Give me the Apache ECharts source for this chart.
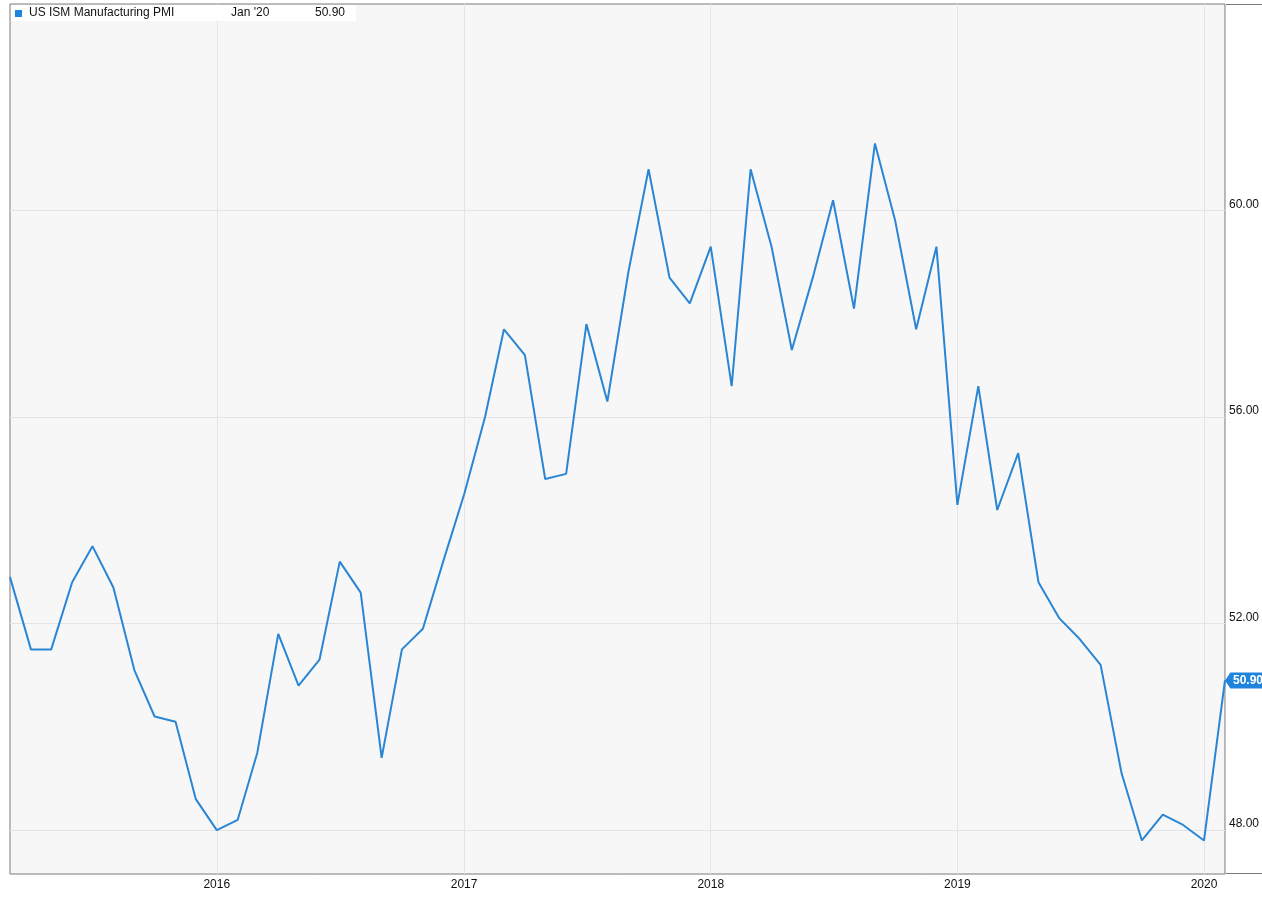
<!DOCTYPE html>
<html>
<head>
<meta charset="utf-8">
<script src="https://cdn.jsdelivr.net/npm/echarts@6/dist/echarts.min.js"></script>
<style>
  html, body { margin: 0; padding: 0; background: #ffffff; }
  #chart { width: 1262px; height: 902px; }
</style>
</head>
<body>
<div id="chart"></div>
<script>
// ---- Data (US ISM Manufacturing PMI, monthly) ----
const seriesName = 'US ISM Manufacturing PMI';
const monthNames = ['Jan', 'Feb', 'Mar', 'Apr', 'May', 'Jun', 'Jul', 'Aug', 'Sep', 'Oct', 'Nov', 'Dec'];
const startYear = 2015;
const startMonth = 1; // February (0-based)
const pmi2015 = [52.9, 51.5, 51.5, 52.8, 53.5, 52.7, 51.1, 50.2, 50.1, 48.6, 48.0]; // Feb..Dec
const pmi2016 = [48.2, 49.5, 51.8, 50.8, 51.3, 53.2, 52.6, 49.4, 51.5, 51.9, 53.2, 54.5];
const pmi2017 = [56.0, 57.7, 57.2, 54.8, 54.9, 57.8, 56.3, 58.8, 60.8, 58.7, 58.2, 59.3];
const pmi2018 = [56.6, 60.8, 59.3, 57.3, 58.7, 60.2, 58.1, 61.3, 59.8, 57.7, 59.3, 54.3];
const pmi2019 = [56.6, 54.2, 55.3, 52.8, 52.1, 51.7, 51.2, 49.1, 47.8, 48.3, 48.1, 47.8];
const pmi2020 = [50.9]; // Jan
const yearTicks = [2016, 2017, 2018, 2019, 2020];
const valueTicks = [48, 52, 56, 60];

// ---- Build series ----
const values = [].concat(pmi2015, pmi2016, pmi2017, pmi2018, pmi2019, pmi2020);
const seriesData = values.map(function (v, i) {
  const m = startMonth + i;
  const y = startYear + Math.floor(m / 12);
  const mm = m % 12;
  // each monthly reading is plotted at the start of the following month
  const t = new Date(y, mm + 1, 1).getTime();
  return [t, v];
});
const lastIdx = values.length - 1;
const lastM = startMonth + lastIdx;
const lastLabel = monthNames[lastM % 12] + " '" + String(startYear + Math.floor(lastM / 12)).slice(2);
const lastValue = values[lastIdx];
const xMin = new Date(startYear, startMonth + 1, 1).getTime();
const xMax = seriesData[lastIdx][0];
const yearTickTimes = yearTicks.map(function (y) { return new Date(y, 0, 1).getTime(); });

const lineColor = '#2a86d4';
const fontFamily = "'Liberation Sans', Arial, Helvetica, sans-serif";

const chart = echarts.init(document.getElementById('chart'), null, { renderer: 'canvas' });
chart.setOption({
  animation: false,
  backgroundColor: '#ffffff',
  textStyle: { fontFamily: fontFamily },
  grid: {
    left: 10, top: 4, right: 36, bottom: 28,
    show: true,
    backgroundColor: '#f7f7f7',
    borderColor: '#7a7a7a',
    borderWidth: 1,
    containLabel: false
  },
  xAxis: {
    type: 'value',
    min: xMin,
    max: xMax,
    axisLine: { show: false },
    axisTick: { show: false, customValues: yearTickTimes },
    axisLabel: {
      customValues: yearTickTimes,
      color: '#111',
      fontSize: 12,
      fontFamily: fontFamily,
      margin: 5,
      formatter: function (v) { return String(new Date(v).getFullYear()); }
    },
    splitLine: { show: true, lineStyle: { color: '#e4e4e4', width: 1 } }
  },
  yAxis: {
    type: 'value',
    position: 'right',
    min: 47.15,
    max: 64.0,
    axisLine: { show: false },
    axisTick: { show: false, customValues: valueTicks },
    axisLabel: {
      customValues: valueTicks,
      color: '#111',
      fontSize: 12,
      fontFamily: fontFamily,
      margin: 4,
      verticalAlign: 'bottom',
      formatter: function (v) { return v.toFixed(2); }
    },
    splitLine: { show: true, lineStyle: { color: '#e4e4e4', width: 1 } }
  },
  series: [{
    name: seriesName,
    type: 'line',
    data: seriesData,
    showSymbol: false,
    symbol: 'none',
    lineStyle: { color: lineColor, width: 2 },
    itemStyle: { color: lineColor },
    clip: false,
    markPoint: {
      silent: true,
      symbol: 'path://M0,8 L6,0 L44,0 L44,16 L6,16 Z',
      symbolSize: [40, 16],
      symbolKeepAspect: false,
      symbolOffset: [20, 0],
      itemStyle: { color: '#1f84dc' },
      label: {
        show: true,
        position: 'inside',
        offset: [3, 0],
        color: '#ffffff',
        fontWeight: 'bold',
        fontSize: 12,
        fontFamily: fontFamily,
        formatter: function () { return lastValue.toFixed(2); }
      },
      data: [{ coord: seriesData[lastIdx], value: lastValue }]
    }
  }],
  graphic: [
    { type: 'line', z: 10, shape: { x1: 1226, y1: 4.5, x2: 1262, y2: 4.5 }, style: { stroke: '#7a7a7a', lineWidth: 1 } },
    { type: 'line', z: 10, shape: { x1: 1226, y1: 873.5, x2: 1262, y2: 873.5 }, style: { stroke: '#7a7a7a', lineWidth: 1 } },
    { type: 'rect', z: 5, shape: { x: 11, y: 5, width: 345, height: 16 }, style: { fill: '#ffffff' } },
    { type: 'rect', z: 6, shape: { x: 15, y: 10, width: 7, height: 7 }, style: { fill: '#1f84dc' } },
    { type: 'text', z: 6, x: 29, y: 7, style: { text: seriesName, fill: '#111', font: '12px ' + fontFamily } },
    { type: 'text', z: 6, x: 231, y: 7, style: { text: lastLabel, fill: '#111', font: '12px ' + fontFamily } },
    { type: 'text', z: 6, x: 315, y: 7, style: { text: lastValue.toFixed(2), fill: '#111', font: '12px ' + fontFamily } }
  ]
});
</script>
</body>
</html>
